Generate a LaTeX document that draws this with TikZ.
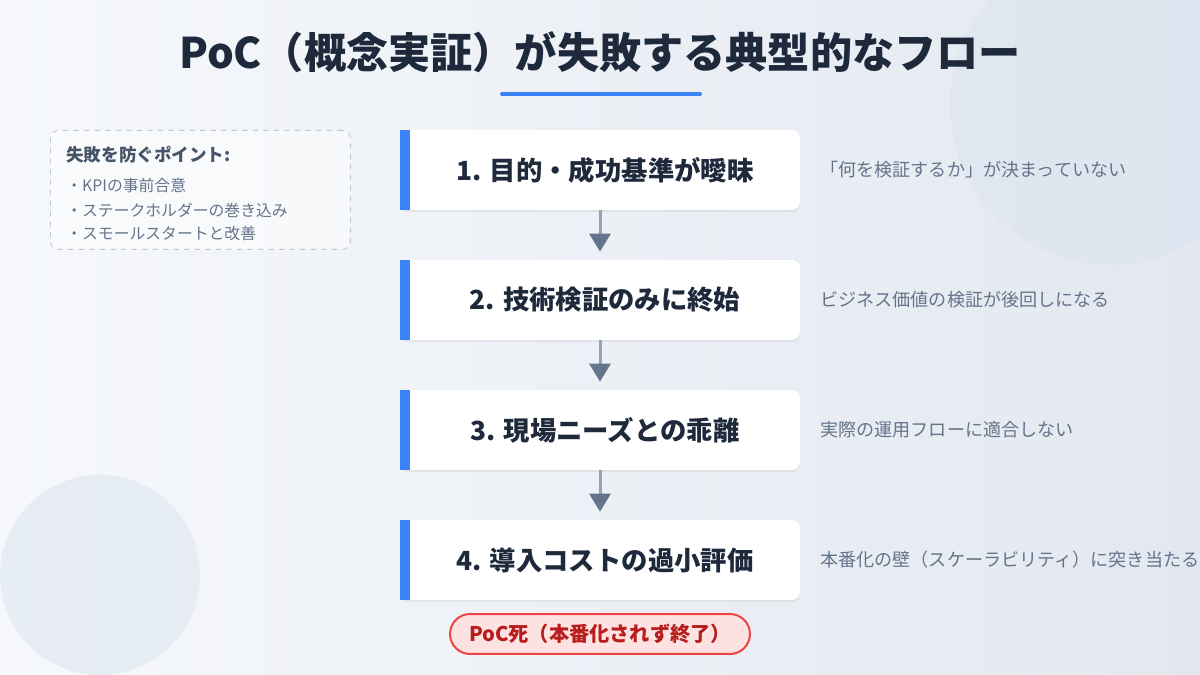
\documentclass[tikz,border=0pt]{standalone}
\usepackage{fontspec}
\setmainfont{Noto Sans CJK JP}
\usetikzlibrary{arrows.meta,shadows}
\definecolor{tinta}{HTML}{1E293B}
\definecolor{gris}{HTML}{64748B}
\definecolor{grisosc}{HTML}{475569}
\definecolor{azul}{HTML}{3B82F6}
\definecolor{linea}{HTML}{94A3B8}
\definecolor{punta}{HTML}{64748B}
\definecolor{fondoA}{HTML}{F6F8FB}
\definecolor{fondoB}{HTML}{E3E8F0}
\definecolor{circulo}{HTML}{DCE4F0}
\definecolor{rojo}{HTML}{EF4444}
\definecolor{rojoosc}{HTML}{B91C1C}
\definecolor{rosa}{HTML}{FEE2E2}
\tikzset{
  paso/.style={fill=white, rounded corners=0.16cm, minimum width=8cm, minimum height=1.6cm,
    font=\fontsize{15}{18}\selectfont\bfseries, text=tinta,
    drop shadow={opacity=0.12, shadow xshift=0pt, shadow yshift=-0.04cm}},
  flecha/.style={draw=linea, line width=0.06cm, shorten >=0.16cm,
    -{Triangle[width=0.42cm, length=0.36cm, color=punta]}},
  nota/.style={anchor=west, inner sep=0pt, text=gris, font=\fontsize{10.3}{13}\selectfont},
  consejo/.style={draw=linea!60, dashed, line width=0.5pt, fill=white, fill opacity=0.5,
    rounded corners=0.16cm, minimum width=6cm, minimum height=2.38cm, anchor=north west},
  item/.style={anchor=west, inner sep=0pt, text=gris, font=\fontsize{9}{11}\selectfont},
  muerte/.style={draw=rojo, line width=0.04cm, fill=rosa, rounded corners=0.4cm,
    minimum width=6cm, minimum height=0.8cm, text=rojoosc, font=\fontsize{11.5}{14}\selectfont\bfseries}
}
\begin{document}
\begin{tikzpicture}[x=0.02cm, y=-0.02cm]
    \useasboundingbox (0,0) rectangle (1200,675);

    % Fondo y circulos decorativos
    \shade[left color=fondoA, right color=fondoB] (0,0) rectangle (1200,675);
    \begin{scope}
      \clip (0,0) rectangle (1200,675);
      \fill[circulo, opacity=0.55] (1110,105) circle (160);
      \fill[circulo, opacity=0.55] (100,575) circle (100);
    \end{scope}

    % Titulo y subrayado
    \node[text=tinta, font=\fontsize{24}{28}\selectfont\bfseries] (titulo) at (600,52) {PoC（概念実証）が失敗する典型的なフロー};
    \draw[azul, line width=0.08cm, line cap=round] (502,94) -- (700,94);

    % Recuadro de consejos
    \node[consejo] (consejos) at (50,130) {};
    \node[anchor=west, inner sep=0pt, text=grisosc, font=\fontsize{10}{12}\selectfont\bfseries] (tiptitulo) at (66,155) {失敗を防ぐポイント:};
    \node[item] (tip1) at (66,185) {・KPIの事前合意};
    \node[item] (tip2) at (66,210) {・ステークホルダーの巻き込み};
    \node[item] (tip3) at (66,234) {・スモールスタートと改善};

    % Pasos del flujo
    \foreach \n/\y/\txt in {1/170/{1. 目的・成功基準が曖昧}, 2/300/{2. 技術検証のみに終始},
                            3/430/{3. 現場ニーズとの乖離}, 4/560/{4. 導入コストの過小評価}} {
      \node[paso] (paso\n) at (600,\y) {\hspace{0.2cm}\txt};
      \fill[azul] (paso\n.north west) rectangle ([xshift=0.2cm]paso\n.south west);
    }

    % Flechas entre pasos
    \draw[flecha] (paso1.south) -- (paso2.north);
    \draw[flecha] (paso2.south) -- (paso3.north);
    \draw[flecha] (paso3.south) -- (paso4.north);

    % Descripciones a la derecha
    \node[nota] (desc1) at (820,170) {「何を検証するか」が決まっていない};
    \node[nota] (desc2) at (820,300) {ビジネス価値の検証が後回しになる};
    \node[nota] (desc3) at (820,430) {実際の運用フローに適合しない};
    \node[nota] (desc4) at (820,560) {本番化の壁（スケーラビリティ）に突き当たる};

    % Resultado final
    \node[muerte] (fin) at (600,634) {PoC死（本番化されず終了）};
\end{tikzpicture}
\end{document}
